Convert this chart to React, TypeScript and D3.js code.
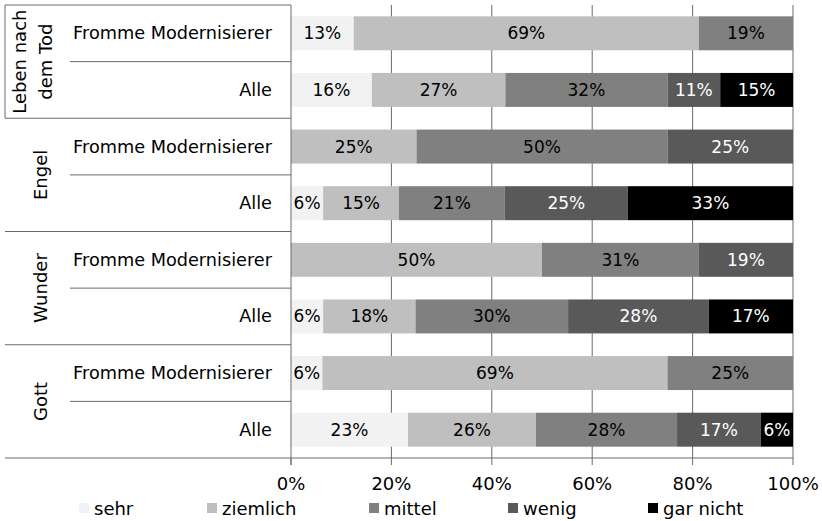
import React from 'react';
import * as d3 from 'd3';

// ---------- DATA ----------
const GROUPS = ['Leben nach dem Tod', 'Engel', 'Wunder', 'Gott'];
const GROUP_LINES = [['Leben nach', 'dem Tod'], ['Engel'], ['Wunder'], ['Gott']];
const SUBGROUPS = ['Fromme Modernisierer', 'Alle'];
const SERIES = ['sehr', 'ziemlich', 'mittel', 'wenig', 'gar nicht'];

// rows in order: Leben FM, Leben Alle, Engel FM, Engel Alle, Wunder FM, Wunder Alle, Gott FM, Gott Alle
const sehr = [12.5, 16.1, 0, 6.4, 0, 6.4, 6.25, 23.3];
const ziemlich = [68.75, 26.6, 25, 15.1, 50, 18.4, 68.75, 25.5];
const mittel = [18.75, 32.3, 50, 21.1, 31.25, 30.4, 25, 28.1];
const wenig = [0, 10.5, 25, 24.5, 18.75, 28.0, 0, 16.7];
const garNicht = [0, 14.5, 0, 32.9, 0, 16.8, 0, 6.4];

const TICKS = [0, 20, 40, 60, 80, 100];

// ---------- STYLE ----------
const COLORS = ['#f2f2f2', '#bfbfbf', '#808080', '#595959', '#000000'];
const TEXT_COLORS = ['#000', '#000', '#000', '#fff', '#fff'];
const FONT = '"DejaVu Sans", sans-serif';
const LINE = '#6a6a6a';

const W = 822;
const H = 521;
const PLOT_LEFT = 291;
const PLOT_RIGHT = 793;
const PLOT_TOP = 5;
const PLOT_BOTTOM = 458;
const BOX_LEFT = 5;
const SUB_LEFT = 70;
const LEGEND_X = [79, 207, 369, 508, 648];

export default function App() {
  const seriesValues = [sehr, ziemlich, mittel, wenig, garNicht];
  const rows = GROUPS.flatMap((g, gi) => SUBGROUPS.map((s, si) => ({ key: `${gi}-${si}`, g, s, idx: gi * 2 + si })));
  const table = rows.map((r) => {
    const o: any = { key: r.key };
    SERIES.forEach((name, k) => (o[name] = seriesValues[k][r.idx]));
    return o;
  });
  const stacked = d3.stack<any>().keys(SERIES)(table);

  const x = d3.scaleLinear().domain([0, 100]).range([PLOT_LEFT, PLOT_RIGHT]);
  const y = d3
    .scaleBand<string>()
    .domain(rows.map((r) => r.key))
    .range([PLOT_TOP, PLOT_BOTTOM])
    .paddingInner(0.4)
    .paddingOuter(0.2);
  const bw = y.bandwidth();
  const boundary = (i: number) => {
    if (i <= 0) return PLOT_TOP;
    if (i >= rows.length) return PLOT_BOTTOM;
    return (y(rows[i - 1].key)! + bw + y(rows[i].key)!) / 2;
  };

  return (
    <div style={{ position: 'absolute', left: 0, top: 0 }}>
      <svg width={W} height={H} style={{ display: 'block', background: '#fff' }} fontFamily={FONT}>
        {/* gridlines */}
        {TICKS.filter((t) => t > 0).map((t) => (
          <line key={'g' + t} x1={x(t)} x2={x(t)} y1={PLOT_TOP} y2={PLOT_BOTTOM} stroke={LINE} strokeWidth={1} />
        ))}
        {/* bars */}
        {stacked.map((layer, k) =>
          layer.map((d, i) => {
            const v = seriesValues[k][i];
            if (v <= 0) return null;
            return (
              <rect
                key={layer.key + i}
                x={x(d[0])}
                y={y(rows[i].key)}
                width={x(d[1]) - x(d[0])}
                height={bw}
                fill={COLORS[k]}
              />
            );
          })
        )}
        {/* bar labels */}
        {stacked.map((layer, k) =>
          layer.map((d, i) => {
            const v = seriesValues[k][i];
            if (v <= 0) return null;
            return (
              <text
                key={'t' + layer.key + i}
                x={(x(d[0]) + x(d[1])) / 2}
                y={y(rows[i].key)! + bw / 2}
                textAnchor="middle"
                dominantBaseline="central"
                fontSize={17}
                fill={TEXT_COLORS[k]}
              >
                {Math.round(v)}%
              </text>
            );
          })
        )}
        {/* axes */}
        <line x1={PLOT_LEFT} x2={PLOT_LEFT} y1={PLOT_TOP} y2={PLOT_BOTTOM + 7} stroke={LINE} />
        <line x1={BOX_LEFT} x2={PLOT_RIGHT} y1={PLOT_BOTTOM} y2={PLOT_BOTTOM} stroke={LINE} />
        {TICKS.map((t) => (
          <g key={'tk' + t}>
            <line x1={x(t)} x2={x(t)} y1={PLOT_BOTTOM} y2={PLOT_BOTTOM + 7} stroke={LINE} />
            <text x={x(t)} y={483} textAnchor="middle" dominantBaseline="central" fontSize={18} fill="#000">
              {t}%
            </text>
          </g>
        ))}
        {/* category box */}
        <line x1={BOX_LEFT} x2={PLOT_LEFT} y1={PLOT_TOP} y2={PLOT_TOP} stroke={LINE} />
        <line x1={BOX_LEFT} x2={BOX_LEFT} y1={PLOT_TOP} y2={boundary(2)} stroke={LINE} />
        {GROUPS.map((g, gi) => (
          <g key={'grp' + gi}>
            {gi > 0 && (
              <line x1={BOX_LEFT} x2={PLOT_LEFT} y1={boundary(gi * 2)} y2={boundary(gi * 2)} stroke={LINE} />
            )}
            <line x1={SUB_LEFT} x2={PLOT_LEFT} y1={boundary(gi * 2 + 1)} y2={boundary(gi * 2 + 1)} stroke={LINE} />
            {GROUP_LINES[gi].map((ln, li, arr) => {
              const cy = (boundary(gi * 2) + boundary(gi * 2 + 2)) / 2;
              const cx = arr.length > 1 ? 19 + li * 26 : 40;
              return (
                <text
                  key={ln}
                  transform={`translate(${cx},${cy}) rotate(-90)`}
                  textAnchor="middle"
                  dominantBaseline="central"
                  fontSize={18}
                  fill="#000"
                >
                  {ln}
                </text>
              );
            })}
          </g>
        ))}
        {rows.map((r) => (
          <text
            key={'lab' + r.key}
            x={272}
            y={y(r.key)! + bw / 2}
            textAnchor="end"
            dominantBaseline="central"
            fontSize={17.7}
            fill="#000"
          >
            {r.s}
          </text>
        ))}
        {/* legend */}
        {SERIES.map((s, k) => (
          <g key={'lg' + s} transform={`translate(${LEGEND_X[k]},508)`}>
            <rect x={0} y={-5} width={10} height={10} fill={COLORS[k]} />
            <text x={15} y={0} dominantBaseline="central" fontSize={18} fill="#000">
              {s}
            </text>
          </g>
        ))}
      </svg>
    </div>
  );
}
